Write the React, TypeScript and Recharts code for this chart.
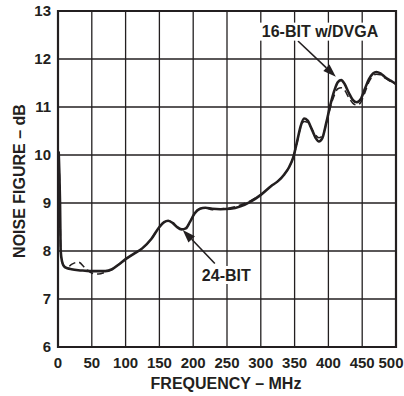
import React from 'react';
import {
  LineChart,
  Line,
  XAxis,
  YAxis,
  CartesianGrid,
  ReferenceArea,
  ReferenceLine,
  ReferenceDot,
  Label,
} from 'recharts';

// frequency points (MHz)
const freqs = [
  1, 3, 4, 6, 9, 14, 20, 30, 40, 50, 60, 70, 80, 90, 100, 112, 125, 138, 150, 157, 163, 170, 176, 183, 189, 195,
  202, 210, 218, 228, 240, 255, 270, 285, 300, 315, 325, 335, 342, 348, 354, 359, 364, 369, 375, 381, 386, 391,
  397, 403, 409, 414, 419, 424, 430, 436, 442, 448, 454, 460, 466, 471, 477, 484, 492, 500,
];

// solid trace
const nf24 = [
  10.07, 9.0, 8.0, 7.78, 7.68, 7.64, 7.62, 7.6, 7.59, 7.58, 7.58, 7.58, 7.62, 7.72, 7.83, 7.94, 8.06, 8.25, 8.5,
  8.6, 8.63, 8.58, 8.5, 8.45, 8.47, 8.6, 8.78, 8.88, 8.9, 8.88, 8.87, 8.88, 8.93, 9.03, 9.17, 9.35, 9.45, 9.6,
  9.75, 9.95, 10.3, 10.6, 10.76, 10.72, 10.55, 10.36, 10.28, 10.35, 10.68, 11.05, 11.35, 11.52, 11.56, 11.48,
  11.3, 11.15, 11.1, 11.17, 11.38, 11.58, 11.7, 11.73, 11.7, 11.62, 11.55, 11.48,
];

// dashed trace
const nf16 = [
  10.07, 9.0, 8.0, 7.78, 7.68, 7.66, 7.72, 7.77, 7.65, 7.54, 7.52, 7.56, 7.62, 7.72, 7.83, 7.94, 8.06, 8.25, 8.5,
  8.6, 8.63, 8.58, 8.5, 8.45, 8.47, 8.6, 8.78, 8.88, 8.9, 8.86, 8.88, 8.9, 8.96, 9.05, 9.17, 9.35, 9.45, 9.6,
  9.75, 9.95, 10.28, 10.58, 10.7, 10.68, 10.55, 10.42, 10.36, 10.4, 10.65, 11.0, 11.25, 11.38, 11.4, 11.35,
  11.2, 11.08, 11.04, 11.1, 11.3, 11.52, 11.65, 11.68, 11.67, 11.6, 11.53, 11.47,
];

const xTicks = [0, 50, 100, 150, 200, 250, 300, 350, 400, 450, 500];
const yTicks = [6, 7, 8, 9, 10, 11, 12, 13];

const data = freqs.map((f, i) => ({ f, nf24: nf24[i], nf16: nf16[i] }));

const INK = '#231f20';
const FS = 15;
const tickStyle = { fill: INK, fontSize: FS, fontWeight: 700 };

// keep the last label inside the 404px frame
const XTick = (props: any) => {
  const { x, y, payload } = props;
  const tx = Math.min(x, 391);
  return (
    <text x={tx} y={y} dy="0.71em" textAnchor="middle" fontSize={FS} fontWeight={700} fill={INK}>
      {payload.value}
    </text>
  );
};

const Arrow = (props: any) => {
  const { x1, y1, x2, y2 } = props;
  const a = Math.atan2(y2 - y1, x2 - x1);
  const len = 13;
  const half = 4.5;
  const bx = x2 - len * Math.cos(a);
  const by = y2 - len * Math.sin(a);
  const px = -Math.sin(a) * half;
  const py = Math.cos(a) * half;
  return (
    <g>
      <line x1={x1} y1={y1} x2={bx} y2={by} stroke={INK} strokeWidth={1.6} />
      <polygon points={`${x2},${y2} ${bx + px},${by + py} ${bx - px},${by - py}`} fill={INK} />
    </g>
  );
};

const tag = (text: string, w: number) => (props: any) => {
  const { cx, cy } = props;
  return (
    <g>
      <rect x={cx - w / 2} y={cy - 9} width={w} height={18} fill="#fff" />
      <text x={cx} y={cy} dy="0.36em" textAnchor="middle" fontSize={16} fontWeight={700} fill={INK}>
        {text}
      </text>
    </g>
  );
};

export default function App() {
  return (
    <div style={{ position: 'absolute', left: 0, top: 0, background: '#fff', fontFamily: '"Liberation Sans", Arial, sans-serif' }}>
      <LineChart width={404} height={396} data={data} margin={{ top: 11, right: 8, bottom: 0, left: 0 }}>
        <CartesianGrid stroke={INK} strokeWidth={1.3} />
        <XAxis
          dataKey="f"
          type="number"
          domain={[0, 500]}
          ticks={xTicks}
          height={49}
          axisLine={false}
          tickLine={false}
          tickSize={8}
          tickMargin={2}
          tick={<XTick />}
          interval={0}
        >
          <Label
            content={({ viewBox }: any) => (
              <text
                x={viewBox.x + viewBox.width / 2 - 1}
                y={389}
                textAnchor="middle"
                fontSize={16}
                fontWeight={700}
                fill={INK}
              >
                FREQUENCY – MHz
              </text>
            )}
          />
        </XAxis>
        <YAxis
          type="number"
          domain={[6, 13]}
          ticks={yTicks}
          width={58}
          axisLine={false}
          tickLine={false}
          tickSize={5}
          tickMargin={2}
          tick={tickStyle}
          interval={0}
        >
          <Label
            content={({ viewBox }: any) => (
              <text
                x={0}
                y={0}
                transform={`translate(25, ${viewBox.y + viewBox.height / 2 + 2}) rotate(-90)`}
                textAnchor="middle"
                fontSize={16}
                fontWeight={700}
                fill={INK}
              >
                NOISE FIGURE – dB
              </text>
            )}
          />
        </YAxis>
        <ReferenceArea x1={0} x2={500} y1={6} y2={13} fill="none" stroke={INK} strokeWidth={2.2} fillOpacity={0} />
        <Line
          type="monotone"
          dataKey="nf16"
          stroke={INK}
          strokeWidth={1.5}
          strokeDasharray="7 4"
          dot={false}
          isAnimationActive={false}
        />
        <Line type="monotone" dataKey="nf24" stroke={INK} strokeWidth={2.6} dot={false} isAnimationActive={false} />
        <ReferenceLine segment={[{ x: 355, y: 12.375 }, { x: 411, y: 11.63 }]} shape={Arrow} ifOverflow="visible" />
        <ReferenceLine segment={[{ x: 232, y: 7.74 }, { x: 184.5, y: 8.44 }]} shape={Arrow} ifOverflow="visible" />
        <ReferenceDot x={387.6} y={12.57} r={0} shape={tag('16-BIT w/DVGA', 122)} ifOverflow="visible" />
        <ReferenceDot x={249} y={7.5} r={0} shape={tag('24-BIT', 54)} ifOverflow="visible" />
      </LineChart>
    </div>
  );
}
